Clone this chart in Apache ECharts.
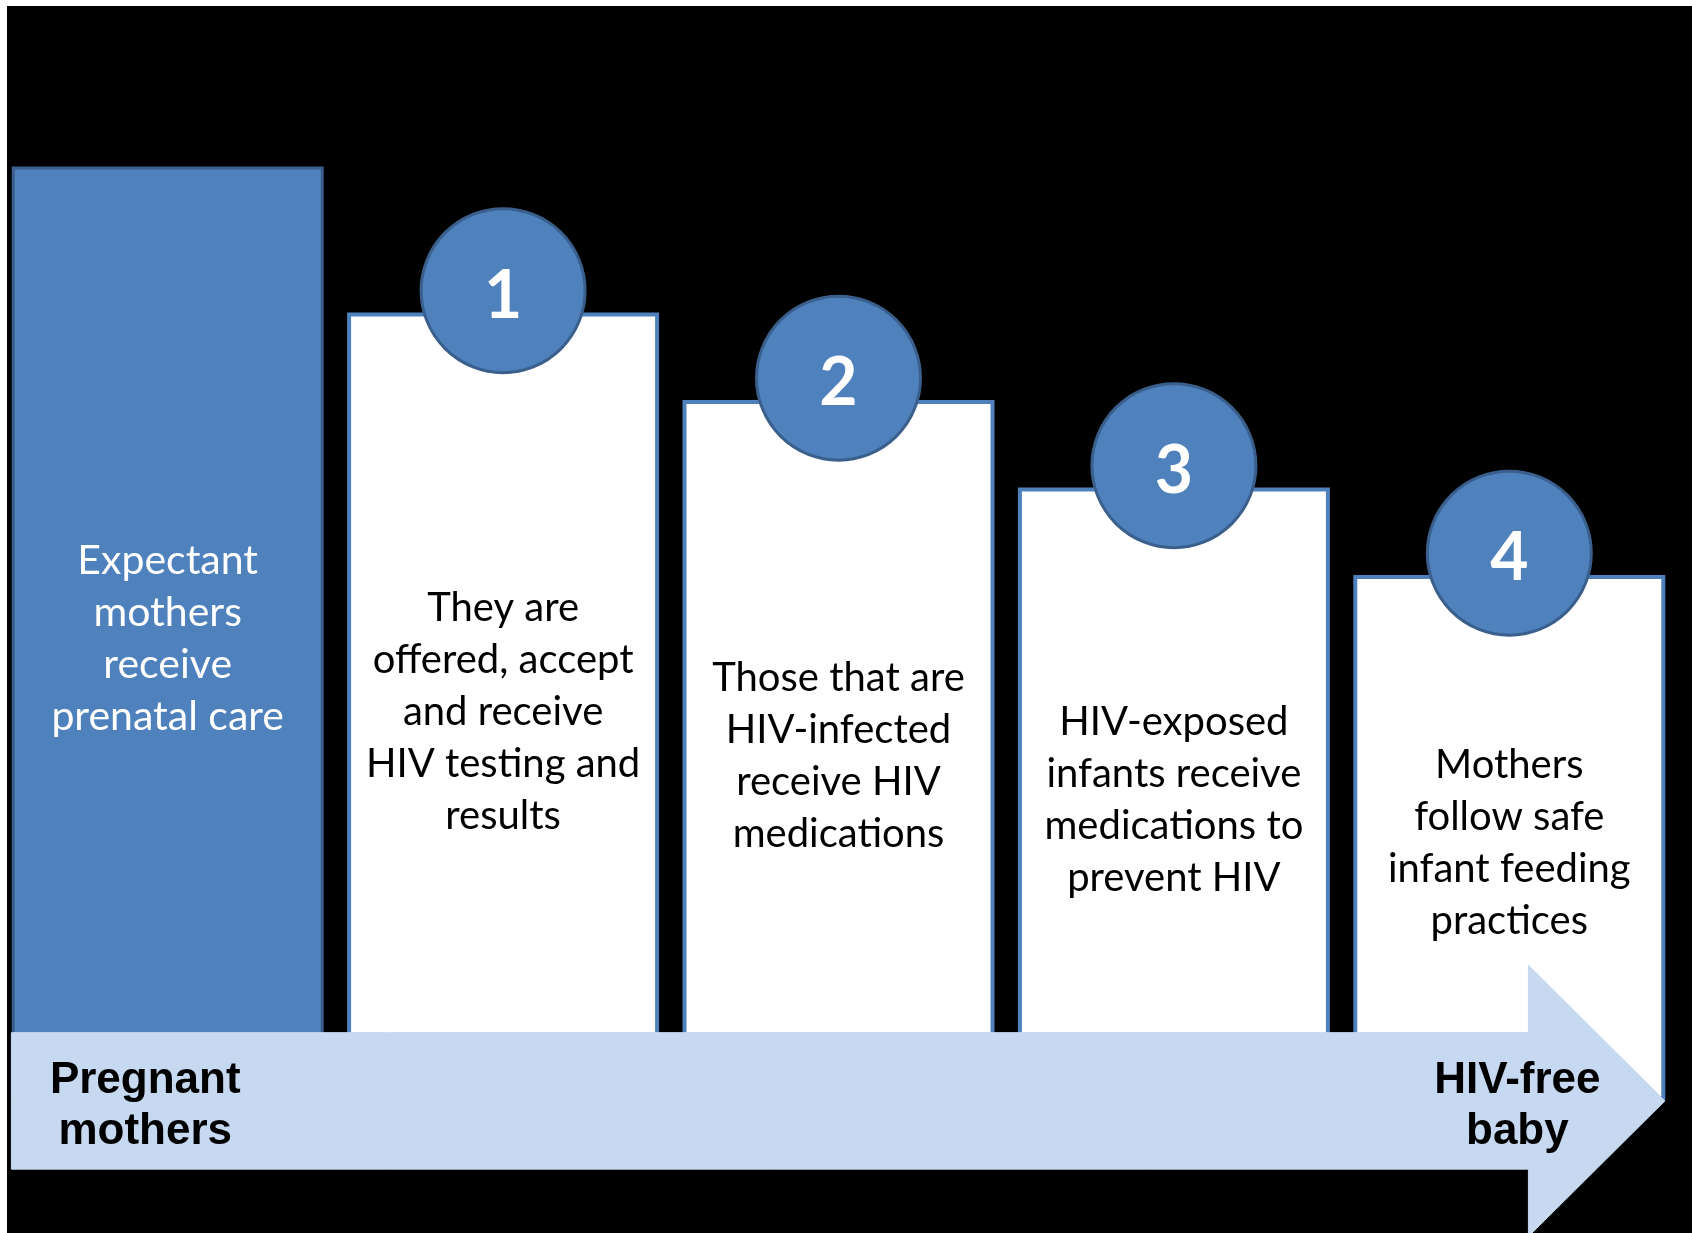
<!DOCTYPE html>
<html>
<head>
<meta charset="utf-8">
<script src="https://cdn.jsdelivr.net/npm/echarts@6/dist/echarts.min.js"></script>
<style>
  html, body { margin: 0; padding: 0; background: #fff; }
  #chart { width: 1692px; height: 1233px; }
</style>
</head>
<body>
<div id="chart"></div>
<script>
// steps of the cascade, left to right
const steps = ['Prenatal care', 'Step 1', 'Step 2', 'Step 3', 'Step 4']
const stepHeights = [10.67, 9, 8, 7, 6]
const stepTexts = [
  'Expectant\nmothers\nreceive\nprenatal care',
  'They are\noffered, accept\nand receive\nHIV testing and\nresults',
  'Those that are\nHIV-infected\nreceive HIV\nmedications',
  'HIV-exposed\ninfants receive\nmedications to\nprevent HIV',
  'Mothers\nfollow safe\ninfant feeding\npractices'
]
// numbered badges sit on the top edge of steps 1-4
const badgeSteps = [1, 2, 3, 4]
const badgeHeights = [9.25, 8.25, 7.25, 6.25]
const badgeLabels = ['1', '2', '3', '4']
// timeline arrow (x in step units, y in value units)
const arrowX = [-0.466, 4.057, 4.464] // start, neck, tip
const arrowShaft = [0.77, -0.79]
const arrowHead = [1.54, -1.56]
const arrowStart = 'Pregnant\nmothers'
const arrowEnd = 'HIV-free\nbaby'
const arrowLabelX = [-0.067, 4.024]
const arrowLabelY = -0.075

const BLUE = '#4F81BD'
const DARK = '#3A5F8C'

const chart = echarts.init(document.getElementById('chart'))

chart.setOption({
  backgroundColor: '#fff',
  animation: false,
  graphic: [{
    type: 'rect',
    z: -10,
    shape: { x: 7, y: 6, width: 1685, height: 1227 },
    style: { fill: '#000' }
  }],
  grid: {
    left: -3,
    width: 1680,
    top: 50,
    height: 1181.25
  },
  xAxis: [{
    type: 'category',
    data: steps,
    show: false
  }, {
    type: 'value',
    min: -0.5,
    max: 4.5,
    show: false
  }],
  yAxis: [{
    type: 'value',
    min: -1.5,
    max: 12,
    show: false
  }],
  series: [{
    type: 'bar',
    barWidth: 312,
    z: 2,
    data: stepHeights.map((v, i) => ({
      value: v,
      itemStyle: i === 0
        ? { color: BLUE, borderColor: DARK, borderWidth: 3 }
        : { color: '#fff', borderColor: BLUE, borderWidth: 4 },
      label: {
        show: true,
        position: 'inside',
        offset: [0, 6],
        formatter: stepTexts[i],
        color: i === 0 ? '#fff' : '#000',
        fontFamily: 'Lato',
        fontSize: i === 0 ? 41 : 40,
        lineHeight: 52,
        align: 'center'
      }
    }))
  }, {
    type: 'scatter',
    z: 3,
    symbol: 'circle',
    symbolSize: 164,
    itemStyle: { color: BLUE, borderColor: DARK, borderWidth: 3, opacity: 1 },
    label: {
      show: true,
      position: 'inside',
      offset: [0, 6],
      color: '#fff',
      fontFamily: 'Lato',
      fontWeight: 'bold',
      fontSize: 66,
      formatter: p => badgeLabels[p.dataIndex]
    },
    data: badgeSteps.map((s, i) => [s, badgeHeights[i]])
  }, {
    type: 'custom',
    xAxisIndex: 1,
    yAxisIndex: 0,
    z: 4,
    data: [0],
    renderItem: (params, api) => {
      const p = (x, y) => api.coord([x, y])
      const pts = [
        p(arrowX[0], arrowShaft[0]),
        p(arrowX[1], arrowShaft[0]),
        p(arrowX[1], arrowHead[0]),
        p(arrowX[2], (arrowHead[0] + arrowHead[1]) / 2),
        p(arrowX[1], arrowHead[1]),
        p(arrowX[1], arrowShaft[1]),
        p(arrowX[0], arrowShaft[1])
      ]
      const txt = (x, s) => {
        const c = p(x, arrowLabelY)
        return {
          type: 'text',
          style: {
            x: c[0],
            y: c[1],
            text: s,
            fill: '#000',
            font: 'bold 44px "Liberation Sans", Arial, sans-serif',
            lineHeight: 51,
            align: 'center',
            verticalAlign: 'middle'
          }
        }
      }
      return {
        type: 'group',
        children: [{
          type: 'polygon',
          shape: { points: pts },
          style: { fill: '#C6D9F1', stroke: '#C6D9F1', lineWidth: 1 }
        }, txt(arrowLabelX[0], arrowStart), txt(arrowLabelX[1], arrowEnd)]
      }
    }
  }]
})
</script>
</body>
</html>
